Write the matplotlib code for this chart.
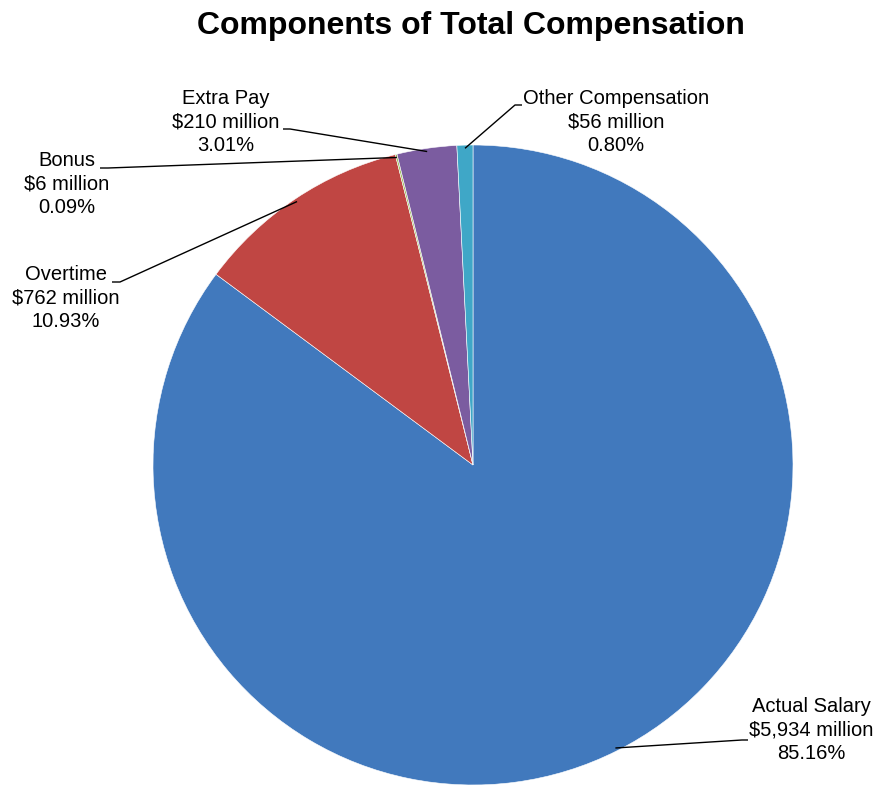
import matplotlib
matplotlib.use("Agg")
import matplotlib.pyplot as plt
import numpy as np

# ---- data ----
categories = ["Actual Salary", "Overtime", "Bonus", "Extra Pay", "Other Compensation"]
values_millions = [5934, 762, 6, 210, 56]
value_labels = ["$5,934 million", "$762 million", "$6 million", "$210 million", "$56 million"]
pct_labels = ["85.16%", "10.93%", "0.09%", "3.01%", "0.80%"]
colors = ["#4179BD", "#C04643", "#9BBB59", "#7B5CA0", "#3FA7C7"]
title = "Components of Total Compensation"

# ---- layout (pixel coords, y measured from top) ----
W, H = 876, 785
center_px = (473, 465)
radius_px = 320
label_pos = {
    "Actual Salary": (811, 730),
    "Overtime": (66, 298),
    "Bonus": (67, 184),
    "Extra Pay": (226, 122),
    "Other Compensation": (616, 122),
}
leader_start = {
    "Actual Salary": [(748, 740), (742, 740)],
    "Overtime": [(112, 282), (120, 282)],
    "Bonus": [(100, 168), (108, 168)],
    "Extra Pay": [(283, 129), (290, 129)],
    "Other Compensation": [(522, 105), (515, 105)],
}

plt.rcParams['font.family'] = ['Liberation Sans', 'DejaVu Sans']

fig = plt.figure(figsize=(W / 100, H / 100), dpi=100)
ax = fig.add_axes([0, 0, 1, 1])

def fy(py):
    return H - py

cx, cy = center_px[0], fy(center_px[1])
wedges, _ = ax.pie(values_millions, colors=colors, startangle=90, counterclock=False,
                   radius=radius_px, center=(cx, cy), frame=True,
                   wedgeprops=dict(edgecolor='white', linewidth=0.4))
ax.set_xlim(0, W)
ax.set_ylim(0, H)
ax.set_aspect('equal')
ax.axis('off')

for w, cat, vl, pl in zip(wedges, categories, value_labels, pct_labels):
    mid = np.deg2rad((w.theta1 + w.theta2) / 2)
    ex = cx + 0.99 * radius_px * np.cos(mid)
    ey = cy + 0.99 * radius_px * np.sin(mid)
    pts = leader_start[cat]
    xs = [p[0] for p in pts] + [ex]
    ys = [fy(p[1]) for p in pts] + [ey]
    ax.plot(xs, ys, color='black', linewidth=1.0, solid_capstyle='butt')
    tx, ty = label_pos[cat]
    ax.text(tx, fy(ty), f"{cat}\n{vl}\n{pl}", ha='center', va='center',
            fontsize=14.5, linespacing=1.27, color='black')

ax.text(471, fy(26), title, ha='center', va='center', fontsize=23, fontweight='bold')

fig.savefig("out.png", dpi=100)
